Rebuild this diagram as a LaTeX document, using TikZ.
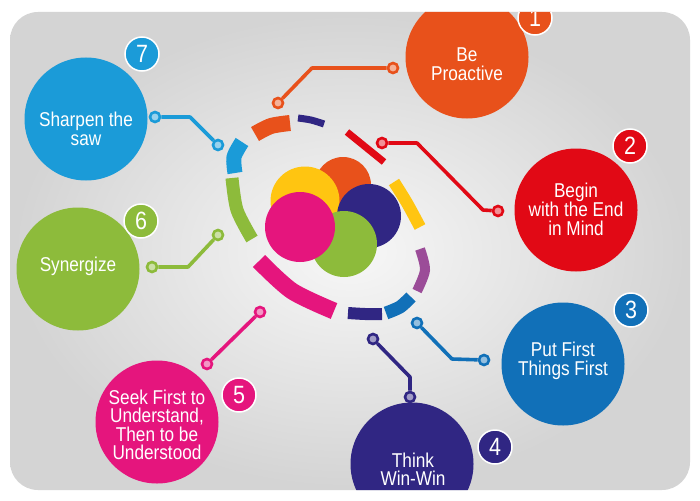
\documentclass[tikz,border=0pt]{standalone}
\usepackage{fontspec}
\setmainfont[FakeStretch=0.86]{Liberation Sans}
\definecolor{cOr}{HTML}{E8511B}
\definecolor{cRed}{HTML}{E10915}
\definecolor{cBlue}{HTML}{1170B8}
\definecolor{cNavy}{HTML}{302683}
\definecolor{cMag}{HTML}{E5157D}
\definecolor{cGreen}{HTML}{8DBB3B}
\definecolor{cSky}{HTML}{1B9BD8}
\definecolor{cYel}{HTML}{FFC511}
\definecolor{cVio}{HTML}{9B4C98}
\tikzset{
  big/.style={circle, minimum size=123pt, inner sep=0pt, fill=#1},
  badge/.style={circle, minimum size=34pt, inner sep=0pt, fill=#1, draw=white, line width=1.5pt, text=white, font=\fontsize{25}{25}\selectfont},
  txt/.style={text=white, align=center, inner sep=0pt, font=\fontsize{20}{18.5}\selectfont},
  seg/.style={line width=#1, line cap=butt},
  wire/.style={line width=3.6pt, line join=round, draw=#1},
  dotend/.style={circle, draw=#1, line width=2.6pt, fill=#1!45!white, minimum size=10pt, inner sep=0pt}
}
\begin{document}
\begin{tikzpicture}[x=1pt,y=-1pt]
\useasboundingbox (0,0) rectangle (700,500);
\fill[white] (0,0) rectangle (700,500);
\shade[rounded corners=28pt, inner color=black!3, outer color=black!17] (10,12) rectangle (690,490);
\begin{scope}
\clip[rounded corners=28pt] (10,12) rectangle (690,490);
% central cluster
\fill[cOr] (343,185) circle (28pt);
\fill[cYel] (305,201) circle (34.5pt);
\fill[cNavy] (369,216) circle (32pt);
\fill[cGreen] (344,244) circle (33pt);
\fill[cMag] (300,227) circle (35pt);
% ring segments
\draw[seg=16pt, cOr] plot[smooth] coordinates {(255,134) (271,126) (290,123)};
\draw[seg=7pt, cNavy] plot[smooth] coordinates {(298,118) (311,120) (324,124)};
\draw[seg=7pt, cRed] (347,132) -- (384,162);
\draw[seg=12pt, cYel] plot[smooth] coordinates {(394,182) (407,203) (420,227)};
\draw[seg=10pt, cVio] plot[smooth] coordinates {(420,249) (425,270) (417,291)};
\draw[seg=13pt, cBlue] plot[smooth] coordinates {(386,313) (400,307) (411,297)};
\draw[seg=12pt, cNavy] plot[smooth] coordinates {(348,313) (365,314) (382,314)};
\draw[seg=17pt, cMag] plot[smooth] coordinates {(259,261) (292,291) (334,311)};
\draw[seg=13pt, cGreen] plot[smooth] coordinates {(232,178) (237,210) (252,239)};
\draw[seg=15pt, cSky] plot[smooth] coordinates {(242,142) (234,157) (235,173)};
% big circles
\node[big=cOr] (c1) at (467,57) {};
\node[big=cRed] (c2) at (576,210) {};
\node[big=cBlue] (c3) at (563,364) {};
\node[big=cNavy] (c4) at (412,464) {};
\node[big=cMag] (c5) at (157,422) {};
\node[big=cGreen] (c6) at (78,269) {};
\node[big=cSky] (c7) at (86,119) {};
\node[txt] (t1) at (467,64) {Be\\Proactive};
\node[txt] (t2) at (576,209) {Begin\\with the End\\in Mind};
\node[txt] (t3) at (563,361) {Put First\\Things First};
\node[txt] (t4) at (413,469) {Think\\Win-Win};
\node[txt] (t5) at (157,425) {Seek First to\\Understand,\\Then to be\\Understood};
\node[txt] (t6) at (78,266) {Synergize};
\node[txt] (t7) at (86,129) {Sharpen the\\saw};
% badges
\node[badge=cOr] (b1) at (535,18) {1};
\node[badge=cRed] (b2) at (630,146) {2};
\node[badge=cBlue] (b3) at (631,310) {3};
\node[badge=cNavy] (b4) at (495,447) {4};
\node[badge=cMag] (b5) at (239,395) {5};
\node[badge=cGreen] (b6) at (141,221) {6};
\node[badge=cSky] (b7) at (142,54) {7};
% connectors
\node[dotend=cOr] (d1a) at (278,103) {};
\node[dotend=cOr] (d1b) at (393,68) {};
\coordinate (k1) at (312,68);
\draw[wire=cOr] (d1a) -- (k1) -- (d1b);
\node[dotend=cRed] (d2a) at (382,143) {};
\node[dotend=cRed] (d2b) at (498,211) {};
\coordinate (k2a) at (417,143);
\coordinate (k2b) at (483,210);
\draw[wire=cRed] (d2a) -- (k2a) -- (k2b) -- (d2b);
\node[dotend=cBlue] (d3a) at (417,323) {};
\node[dotend=cBlue] (d3b) at (484,360) {};
\coordinate (k3) at (452,359);
\draw[wire=cBlue] (d3a) -- (k3) -- (d3b);
\node[dotend=cNavy] (d4a) at (373,339) {};
\node[dotend=cNavy] (d4b) at (410,397) {};
\coordinate (k4) at (410,377);
\draw[wire=cNavy] (d4a) -- (k4) -- (d4b);
\node[dotend=cMag] (d5a) at (260,312) {};
\node[dotend=cMag] (d5b) at (207,364) {};
\draw[wire=cMag] (d5a) -- (d5b);
\node[dotend=cGreen] (d6a) at (218,235) {};
\node[dotend=cGreen] (d6b) at (152,267) {};
\coordinate (k6) at (188,267);
\draw[wire=cGreen] (d6a) -- (k6) -- (d6b);
\node[dotend=cSky] (d7a) at (218,145) {};
\node[dotend=cSky] (d7b) at (155,117) {};
\coordinate (k7) at (190,117);
\draw[wire=cSky] (d7a) -- (k7) -- (d7b);
\end{scope}
\end{tikzpicture}
\end{document}
